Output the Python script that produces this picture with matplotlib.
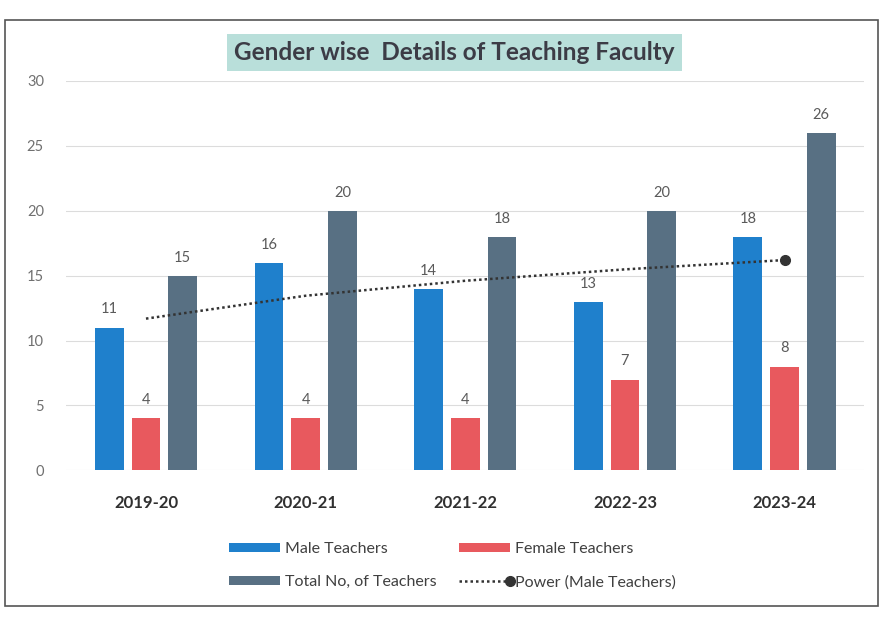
import numpy as np
import matplotlib
matplotlib.use("Agg")
import matplotlib.pyplot as plt
from matplotlib.patches import Rectangle
from matplotlib.lines import Line2D
from matplotlib.legend_handler import HandlerLine2D

# ----------------------------------
# DATA
# ----------------------------------

years = ["2019-20", "2020-21", "2021-22", "2022-23", "2023-24"]
male = [11, 16, 14, 13, 18]
female = [4, 4, 4, 7, 8]
total = [15, 20, 18, 20, 26]

y_ticks = [0, 5, 10, 15, 20, 25, 30]

# ----------------------------------
# STYLE
# ----------------------------------

plt.rcParams["font.family"] = ["Lato", "DejaVu Sans"]

C_MALE = "#1f80cc"
C_FEMALE = "#e8595e"
C_TOTAL = "#587083"
C_LABEL = "#5a5a5a"
C_TREND = "#333333"

BAR_W = 0.18
OFFSET = 0.23

# power trendline  y = a * x^b  (Excel style, x = 1..n)
xs = np.arange(1, len(male) + 1)
b, ln_a = np.polyfit(np.log(xs), np.log(male), 1)
trend = np.exp(ln_a) * xs ** b


class EndMarkerHandler(HandlerLine2D):
    """Dotted legend line with the marker at its right end."""

    def create_artists(self, legend, orig_handle, xdescent, ydescent,
                       width, height, fontsize, trans):
        y = height / 2 - ydescent
        ln = Line2D([-xdescent, width - xdescent], [y, y],
                    linestyle=(0, (1, 1.2)), color=C_TREND, linewidth=1.8,
                    transform=trans)
        mk = Line2D([width - xdescent], [y], marker="o", markersize=7,
                    color=C_TREND, linestyle="none", transform=trans)
        return [ln, mk]


# ----------------------------------
# PLOT
# ----------------------------------

fig = plt.figure(figsize=(8.82, 6.23), dpi=100)
ax = fig.add_axes([0.075, 0.245, 0.905, 0.625])

x = np.arange(len(years))

bars_m = ax.bar(x - OFFSET, male, BAR_W, color=C_MALE, zorder=3)
bars_f = ax.bar(x, female, BAR_W, color=C_FEMALE, zorder=3)
bars_t = ax.bar(x + OFFSET, total, BAR_W, color=C_TOTAL, zorder=3)

trend_line, = ax.plot(x, trend, linestyle=(0, (1, 1.2)), color=C_TREND,
                      linewidth=1.8, zorder=4)
ax.plot(x[-1], trend[-1], "o", color=C_TREND, markersize=7, zorder=5)

for bars in (bars_m, bars_f, bars_t):
    for rect in bars:
        h = rect.get_height()
        ax.annotate(f"{h:g}", (rect.get_x() + rect.get_width() / 2, h),
                    xytext=(0, 8), textcoords="offset points",
                    ha="center", va="bottom", fontsize=10.5, color=C_LABEL)

ax.set_ylim(0, 30)
ax.set_xlim(-0.5, len(years) - 0.5)
ax.set_yticks(y_ticks)
ax.yaxis.grid(True, color="#dcdcdc", linewidth=0.8, zorder=0)
ax.set_axisbelow(True)
ax.set_xticks(x)
ax.set_xticklabels(years, fontsize=12, fontweight="bold", color="#303030")
ax.tick_params(axis="x", length=0, pad=18)
ax.tick_params(axis="y", length=0, labelsize=10.5, labelcolor="#707070", pad=16)
for s in ax.spines.values():
    s.set_visible(False)

fig.text(0.515, 0.916, "Gender wise  Details of Teaching Faculty",
         ha="center", va="center", fontsize=17.5, fontweight="bold", color="#3c3c46",
         bbox=dict(boxstyle="square,pad=0.3", facecolor="#b9dfda", edgecolor="none"))

handles = [bars_m, bars_t, bars_f, trend_line]
labels = ["Male Teachers", "Total No, of Teachers", "Female Teachers",
          "Power (Male Teachers)"]
fig.legend(handles, labels, ncol=2, loc="center", bbox_to_anchor=(0.513, 0.092),
           frameon=False, fontsize=11.5, labelcolor="#404040",
           handlelength=3.2, handleheight=0.5, columnspacing=1.4,
           handletextpad=0.3, labelspacing=1.2,
           handler_map={trend_line: EndMarkerHandler()})

# frame round the chart
fig.patches.append(Rectangle((0.006, 0.028), 0.99, 0.94, transform=fig.transFigure,
                             fill=False, edgecolor="#555555", linewidth=1.2))

fig.savefig("out.png", dpi=100)
